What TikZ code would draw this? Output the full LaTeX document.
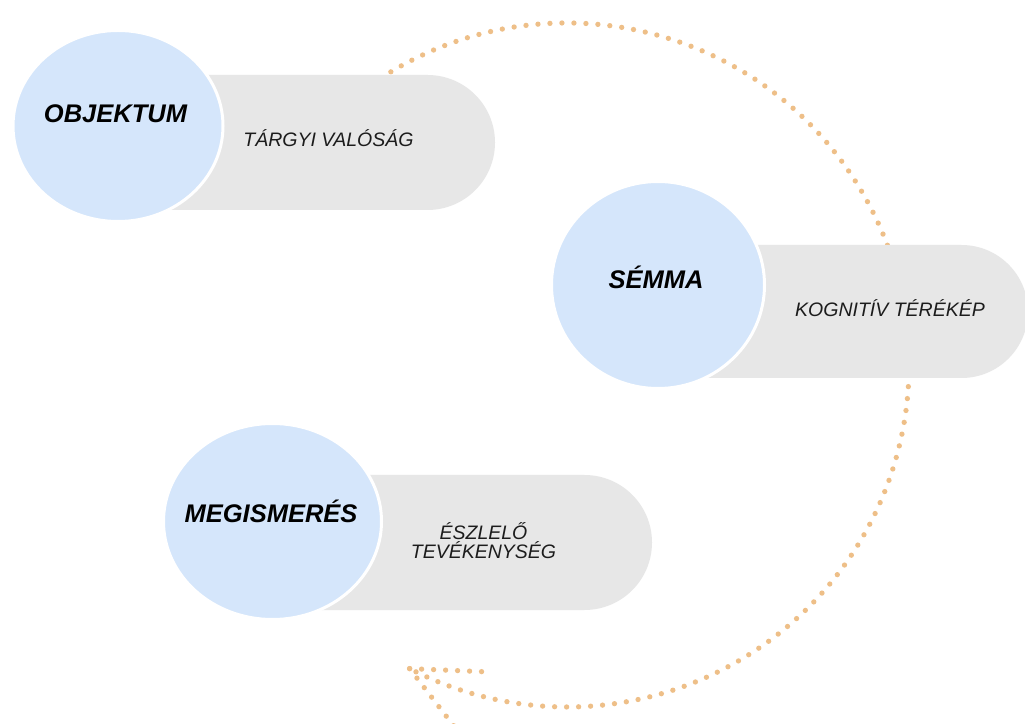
\documentclass[tikz,border=0pt]{standalone}
\usepackage{fontspec}
\setmainfont{Liberation Sans}
\usetikzlibrary{shapes.geometric,shapes.misc,calc}

\definecolor{bubble}{HTML}{D5E6FB}
\definecolor{band}{HTML}{E7E7E7}
\definecolor{dots}{HTML}{EEBF88}
\definecolor{ink}{HTML}{1C1C1C}

\begin{document}
\begin{tikzpicture}[x=1pt,y=1pt,
  bubblenode/.style={ellipse, fill=bubble, draw=white, line width=3pt, inner sep=0pt, outer sep=0pt},
  bandnode/.style={rounded rectangle, rounded rectangle left arc=none, fill=band, draw=none, inner sep=0pt, outer sep=0pt},
  titletext/.style={anchor=base, inner sep=0pt, text=black, font=\fontsize{25.5}{28}\selectfont\bfseries\itshape},
  subtext/.style={anchor=base, inner sep=0pt, text=ink, align=center, font=\fontsize{19.5}{19}\selectfont\itshape},
  dotline/.style={draw=dots, line width=5.3pt, line cap=round, dash pattern=on 0pt off 12pt}]

\useasboundingbox[fill=white] (0,0) rectangle (1025,723);

% cycle arc with open arrowhead
\coordinate (arcstart) at ($(567,358)+(121:342)$);
\coordinate (arctip) at ($(567,358)+(-117.4:342)$);
\draw[dotline] (arcstart) arc[start angle=121, end angle=-117.4, radius=342];
\coordinate (armA) at ($(arctip)+(-2.4:78)$);
\coordinate (armB) at ($(arctip)+(-52.4:78)$);
\draw[dotline] (arctip) -- (armA);
\draw[dotline] (arctip) -- (armB);

% grey bands
\node[bandnode, minimum width=345pt, minimum height=135pt] (band1) at (322.5,580.5) {};
\node[bandnode, minimum width=328pt, minimum height=133pt] (band2) at (864,411.5) {};
\node[bandnode, minimum width=352pt, minimum height=135pt] (band3) at (476,180.5) {};

% blue discs
\node[bubblenode, minimum width=210pt, minimum height=191pt] (disc1) at (118,597) {};
\node[bubblenode, minimum width=213pt, minimum height=207pt] (disc2) at (658,438) {};
\node[bubblenode, minimum width=218pt, minimum height=196pt] (disc3) at (272.5,201.5) {};

% labels
\node[titletext] (t1) at (115.5,600) {OBJEKTUM};
\node[titletext] (t2) at (656,434) {SÉMMA};
\node[titletext] (t3) at (271,200) {MEGISMERÉS};

\node[subtext] (s1) at (328.5,576) {TÁRGYI VALÓSÁG};
\node[subtext] (s2) at (890,406) {KOGNITÍV TÉRÉKÉP};
\node[subtext] (s3) at (483.5,164) {ÉSZLELŐ\\TEVÉKENYSÉG};

\end{tikzpicture}
\end{document}
